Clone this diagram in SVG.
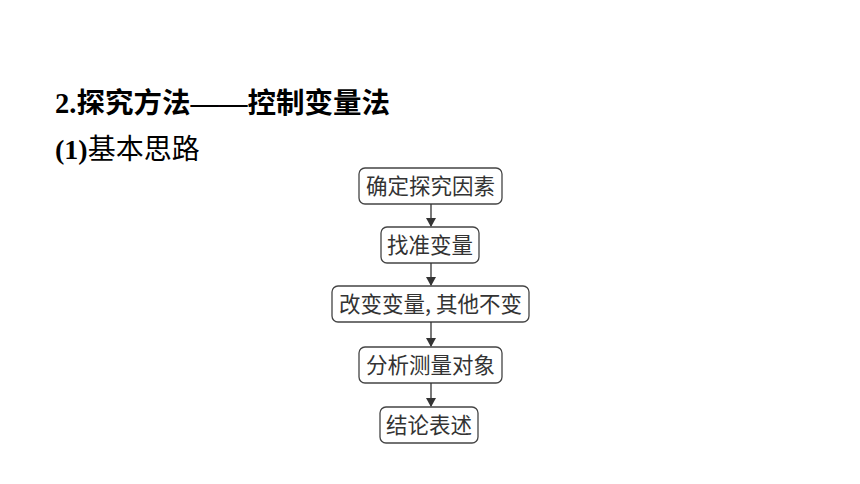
<svg xmlns="http://www.w3.org/2000/svg" width="860" height="484" viewBox="0 0 860 484">
<style>
.title{font-family:"Liberation Serif","Noto Sans CJK SC",serif;font-weight:bold;font-size:28.5px;fill:#000}
.sub{font-family:"Liberation Serif","Noto Sans CJK SC",serif;font-size:28px;fill:#000}
.box{fill:#fff;stroke:#444;stroke-width:1.3}
.lbl{font-family:"Noto Sans CJK SC","Noto Sans",sans-serif;font-size:21.5px;fill:#333;text-anchor:middle}
.edge{stroke:#333;stroke-width:1.3;fill:none}
</style>
<defs>
<marker id="ah" markerWidth="10" markerHeight="10" refX="8" refY="5" orient="auto" markerUnits="userSpaceOnUse">
<path d="M0,0 L9,5 L0,10 Z" fill="#333"/>
</marker>
</defs>
<rect width="860" height="484" fill="#fff"/>
<text class="title" x="55" y="113">2.探究方法——控制变量法</text>
<text class="sub" x="55" y="159"><tspan font-weight="bold">(1)</tspan>基本思路</text>
<g id="n1"><rect class="box" x="359" y="168" width="143" height="36" rx="6"/><text class="lbl" x="430.5" y="193.5">确定探究因素</text></g>
<g id="n2"><rect class="box" x="381" y="227" width="98" height="36" rx="6"/><text class="lbl" x="430" y="252.5">找准变量</text></g>
<g id="n3"><rect class="box" x="332" y="286" width="197" height="36" rx="6"/><text class="lbl" x="430.5" y="311.5">改变变量,<tspan dx="5">其他不变</tspan></text></g>
<g id="n4"><rect class="box" x="359" y="347" width="143" height="36" rx="6"/><text class="lbl" x="430.5" y="372.5">分析测量对象</text></g>
<g id="n5"><rect class="box" x="380" y="407" width="98" height="36" rx="6"/><text class="lbl" x="429" y="432.5">结论表述</text></g>
<g id="edges">
<line class="edge" x1="431" y1="204" x2="431" y2="226" marker-end="url(#ah)"/>
<line class="edge" x1="431" y1="263" x2="431" y2="285" marker-end="url(#ah)"/>
<line class="edge" x1="431" y1="322" x2="431" y2="346" marker-end="url(#ah)"/>
<line class="edge" x1="431" y1="383" x2="431" y2="406" marker-end="url(#ah)"/>
</g>
</svg>
